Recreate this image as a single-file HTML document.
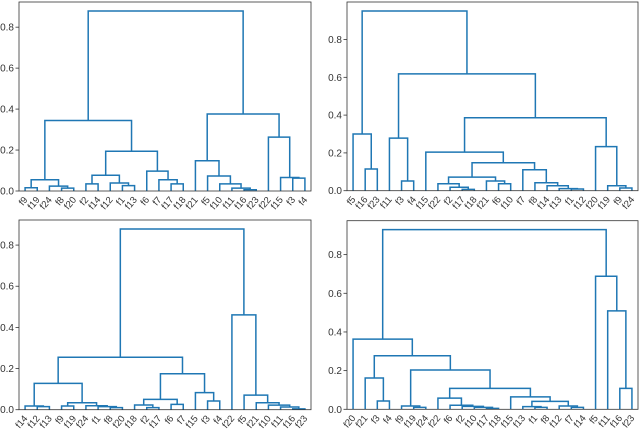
<!DOCTYPE html>
<html><head><meta charset="utf-8"><style>
html,body{margin:0;padding:0;background:#fff;}
svg{display:block;font-family:"Liberation Sans","DejaVu Sans",sans-serif;}
</style></head><body>
<svg id="chart" width="640" height="431" viewBox="0 0 640 431"></svg>
<script>
const leaves1=['f9','f19','f24','f8','f20','f2','f14','f12','f1','f13','f6','f7','f17','f18','f21','f5','f10','f11','f16','f23','f22','f15','f3','f4'];
const merges1=[['f9','f19',0.016],['f8','f20',0.014],['f24',1,0.024],[0,2,0.055],['f2','f14',0.035],['f1','f13',0.026],['f12',5,0.039],[4,6,0.077],['f17','f18',0.035],['f7',8,0.055],['f6',9,0.097],[7,10,0.194],[3,11,0.344],['f16','f23',0.006],['f11',13,0.014],['f10',14,0.035],['f5',15,0.073],['f21',16,0.148],['f3','f4',0.063],['f15',18,0.066],['f22',19,0.263],[17,20,0.376],[12,21,0.879]];
const leaves2=['f5','f16','f23','f11','f3','f4','f15','f22','f2','f17','f18','f21','f6','f10','f7','f8','f14','f13','f1','f12','f20','f19','f9','f24'];
const merges2=[['f16','f23',0.115],['f5',0,0.30],['f3','f4',0.051],['f11',2,0.278],['f17','f18',0.007],['f2',4,0.018],['f22',5,0.037],['f6','f10',0.037],['f21',7,0.051],[6,8,0.072],['f1','f12',0.009],['f13',10,0.011],['f14',11,0.026],['f8',12,0.042],['f7',13,0.111],[9,14,0.148],['f15',15,0.204],['f9','f24',0.014],['f19',17,0.026],['f20',18,0.233],[16,19,0.386],[3,20,0.618],[1,21,0.951]];
const leaves3=['f14','f12','f13','f9','f19','f24','f1','f8','f20','f18','f2','f17','f6','f7','f15','f3','f4','f22','f5','f21','f10','f11','f16','f23'];
const merges3=[['f12','f13',0.015],['f14',0,0.018],['f8','f20',0.010],['f1',2,0.015],['f24',3,0.019],['f9','f19',0.018],[5,4,0.034],[1,6,0.128],['f2','f17',0.010],['f18',8,0.023],['f6','f7',0.026],[9,10,0.050],['f3','f4',0.042],['f15',12,0.083],[11,13,0.175],[7,14,0.255],['f16','f23',0.004],['f11',16,0.013],['f10',17,0.022],['f21',18,0.034],['f5',19,0.071],['f22',20,0.461],[15,21,0.878]];
const leaves4=['f20','f21','f3','f4','f9','f19','f24','f22','f6','f2','f10','f17','f18','f15','f13','f1','f8','f12','f7','f14','f5','f11','f16','f23'];
const merges4=[['f3','f4',0.043],['f21',0,0.162],['f19','f24',0.010],['f9',2,0.017],['f17','f18',0.005],['f10',4,0.010],['f2',5,0.015],['f6',6,0.021],['f22',7,0.058],['f1','f8',0.010],['f13',9,0.014],['f7','f14',0.010],['f12',11,0.017],[10,12,0.041],['f15',13,0.064],[8,14,0.108],[3,15,0.203],[1,16,0.277],['f20',17,0.363],['f16','f23',0.108],['f11',19,0.509],['f5',20,0.688],[18,21,0.929]];
const yTicks=[0,0.2,0.4,0.6,0.8];

const svg=document.getElementById('chart');
const NS='http://www.w3.org/2000/svg';
function mk(tag,attrs,parent){const e=document.createElementNS(NS,tag);for(const k in attrs)e.setAttribute(k,attrs[k]);parent.appendChild(e);return e;}

const panels=[
 {leaves:leaves1,merges:merges1,left:19,right:311,top:2,bottom:191,name:'top-left'},
 {leaves:leaves2,merges:merges2,left:347,right:638,top:2,bottom:190.7,name:'top-right'},
 {leaves:leaves3,merges:merges3,left:19,right:311,top:220,bottom:409.7,name:'bottom-left'},
 {leaves:leaves4,merges:merges4,left:347,right:638,top:220.7,bottom:409.3,name:'bottom-right'}
];

panels.forEach(p=>{
  const g=mk('g',{},svg);
  
  
  const n=p.leaves.length;
  const maxH=Math.max(...p.merges.map(m=>m[2]));
  const ymax=maxH*1.05;
  const xs=i=>p.left+(i+0.5)*(p.right-p.left)/n;
  const ys=v=>p.bottom-v*(p.bottom-p.top)/ymax;
  const pos=[];
  function node(c){
    if(typeof c==='string') return {x:xs(p.leaves.indexOf(c)),h:0};
    return pos[c];
  }
  p.merges.forEach((m,k)=>{
    const a=node(m[0]),b=node(m[1]),h=m[2];
    const pl=mk('polyline',{points:`${a.x},${ys(a.h)} ${a.x},${ys(h)} ${b.x},${ys(h)} ${b.x},${ys(b.h)}`,fill:'none',stroke:'#1f77b4','stroke-width':1.5},g);
    
    
    pos[k]={x:(a.x+b.x)/2,h:h};
  });
  const frame=mk('rect',{x:p.left,y:p.top,width:p.right-p.left,height:p.bottom-p.top,fill:'none',stroke:'#333','stroke-width':0.8},g);
  
  
  yTicks.forEach(t=>{
    const y=ys(t);
    const tk=mk('line',{x1:p.left-3.5,x2:p.left,y1:y,y2:y,stroke:'#333','stroke-width':0.8},g);
    
    
    const tl=mk('text',{x:p.left-5,y:y+3.5,'text-anchor':'end','font-size':10,fill:'#333'},g);
    
    
    tl.textContent=t.toFixed(1);
  });
  p.leaves.forEach((l,i)=>{
    const x=xs(i),y=p.bottom+5;
    const tl=mk('text',{x:x+3,y:y+4,'text-anchor':'end','font-size':9.5,fill:'#333',transform:`rotate(-50 ${x+3} ${y+4})`},g);
    
    
    tl.textContent=l;
  });
});
</script>
</body></html>
